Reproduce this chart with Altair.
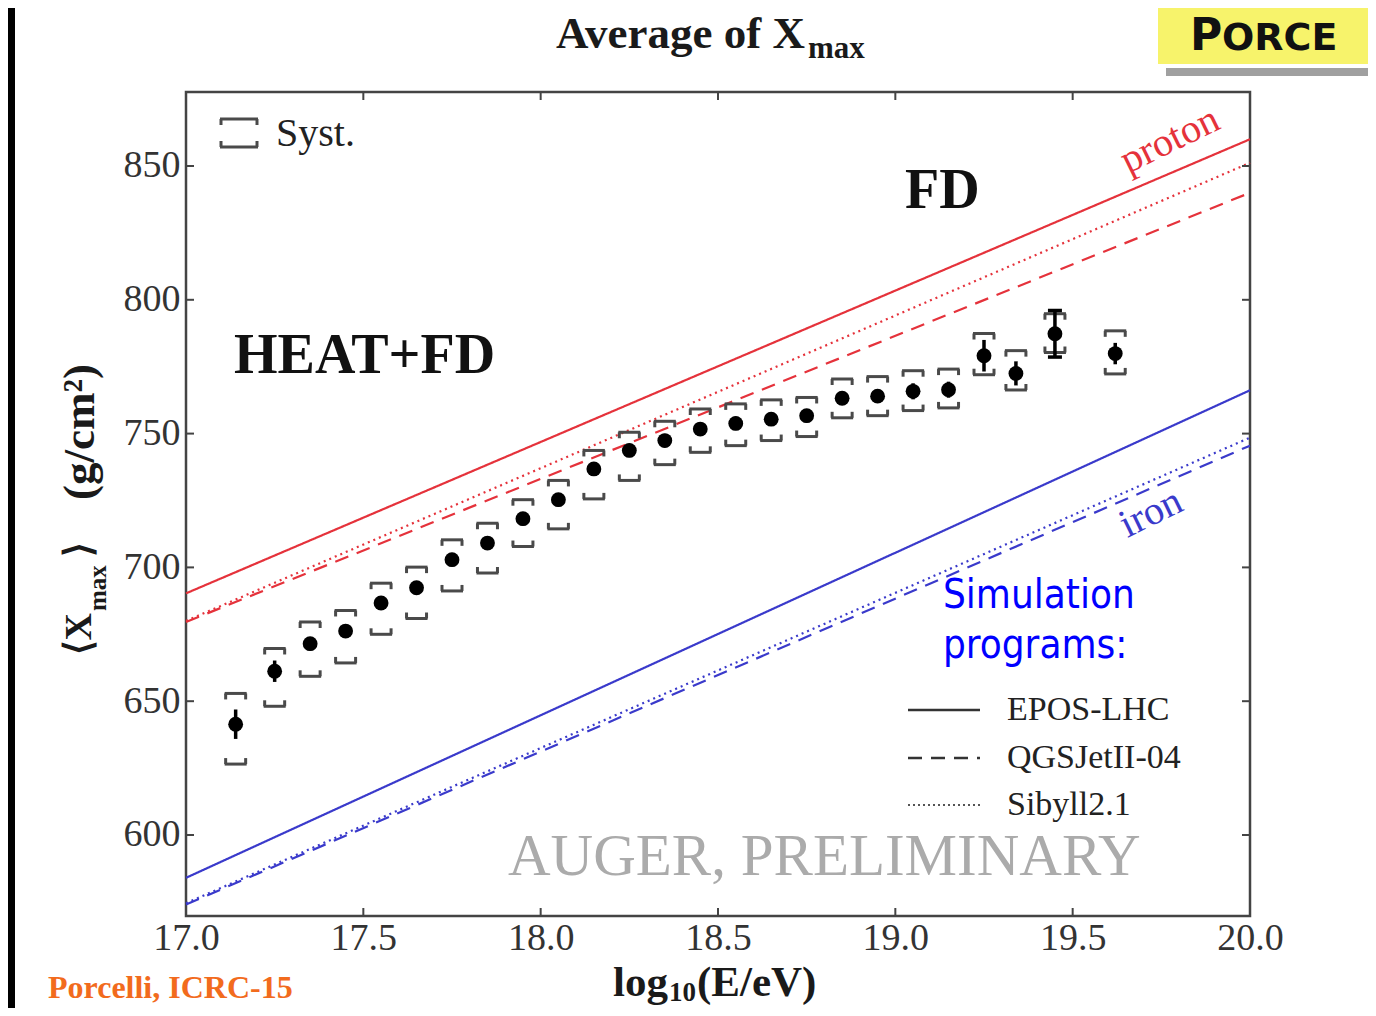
import altair as alt
import pandas as pd

# ---------------- data ----------------
log_e = [17.14, 17.25, 17.35, 17.45, 17.55, 17.65, 17.75, 17.85, 17.95, 18.05,
         18.15, 18.25, 18.35, 18.45, 18.55, 18.65, 18.75, 18.85, 18.95, 19.05,
         19.15, 19.25, 19.34, 19.45, 19.62]
xmax_mean = [641.4, 661.2, 671.5, 676.2, 686.7, 692.4, 702.9, 709.1, 718.2, 725.3,
             736.8, 743.7, 747.4, 751.7, 753.8, 755.4, 756.7, 763.2, 764.0, 765.8,
             766.4, 779.1, 772.5, 787.3, 779.9]
stat_err = [5.5, 4.0, 2.5, 2.5, 2.5, 2.5, 2.5, 2.5, 2.5, 2.5,
            2.5, 2.5, 2.5, 2.5, 2.5, 2.5, 2.5, 2.5, 2.5, 3.0,
            3.0, 5.9, 4.5, 8.7, 4.0]
syst_up = [11.5, 8.5, 8.1, 7.7, 7.4, 7.7, 7.4, 7.4, 7.1, 7.2,
           6.9, 6.8, 7.2, 7.5, 7.3, 7.2, 6.8, 7.2, 7.3, 7.7,
           7.7, 8.3, 8.5, 7.5, 8.5]
syst_low = [14.9, 13.1, 12.2, 11.9, 11.7, 11.5, 11.7, 11.2, 10.4, 10.9,
            11.2, 11.2, 9.0, 8.7, 8.3, 8.0, 7.8, 7.3, 7.3, 7.2,
            6.8, 7.1, 6.2, 7.0, 7.6]

sim_models = ["EPOS-LHC", "QGSJetII-04", "Sibyll2.1"]
sim_log_e = [17.0, 20.0]
proton_xmax = [[690.3, 860.0], [679.6, 840.0], [680.0, 851.2]]
iron_xmax = [[584.0, 766.2], [574.0, 745.5], [574.5, 748.5]]

x_ticks = [17.0, 17.5, 18.0, 18.5, 19.0, 19.5, 20.0]
y_ticks = [600, 650, 700, 750, 800, 850]

# ---------------- tables ----------------
pts = pd.DataFrame({"x": log_e, "y": xmax_mean})
pts["st_lo"] = [m - e for m, e in zip(xmax_mean, stat_err)]
pts["st_hi"] = [m + e for m, e in zip(xmax_mean, stat_err)]
pts["sy_lo"] = [m - e for m, e in zip(xmax_mean, syst_low)]
pts["sy_hi"] = [m + e for m, e in zip(xmax_mean, syst_up)]
caps = pts[[e > 7 for e in stat_err]]

rows = []
for prim, table in (("proton", proton_xmax), ("iron", iron_xmax)):
    for model, vals in zip(sim_models, table):
        for xe, v in zip(sim_log_e, vals):
            rows.append({"primary": prim, "model": model, "x": xe, "y": v})
sims = pd.DataFrame(rows)

xt = pd.DataFrame({"v": x_ticks})
yt = pd.DataFrame({"v": y_ticks})
one = pd.DataFrame({"_": [0]})

W, H = 1064, 824
SERIF = "Liberation Serif"
FRAME = "#444444"
RED = "#e5323b"
BLUE = "#3a3acb"

xs = alt.Scale(domain=[17.0, 20.0], nice=False, zero=False)
ys = alt.Scale(domain=[569.73, 877.65], nice=False, zero=False)
xaxis = alt.Axis(values=x_ticks, format=".1f", title=None, labelPadding=3, labelFlush=False)
yaxis = alt.Axis(values=y_ticks, format="d", title=None, labelPadding=6, labelFlush=False)


def X(f):
    return alt.X(f, type="quantitative", scale=xs, axis=xaxis)


def Y(f):
    return alt.Y(f, type="quantitative", scale=ys, axis=yaxis)


def txt(s, x, y, size, color="#111111", weight="normal", font=SERIF,
        align="left", baseline="alphabetic", angle=0):
    return alt.Chart(one).mark_text(
        text=s, font=font, fontSize=size, fontWeight=weight, color=color,
        align=align, baseline=baseline, angle=angle
    ).encode(x=alt.value(x), y=alt.value(y))


def prule(x, x2, y, y2, color, width=3, dash=None):
    kw = {"color": color, "strokeWidth": width}
    if dash is not None:
        kw["strokeDash"] = dash
    return alt.Chart(one).mark_rule(**kw).encode(
        x=alt.value(x), x2=alt.value(x2), y=alt.value(y), y2=alt.value(y2))


# ---------------- simulation lines ----------------
lines = alt.Chart(sims).mark_line(strokeWidth=2.2).encode(
    x=X("x"), y=Y("y"),
    color=alt.Color("primary:N", scale=alt.Scale(domain=["proton", "iron"], range=[RED, BLUE]), legend=None),
    strokeDash=alt.StrokeDash("model:N", scale=alt.Scale(domain=sim_models, range=[[1, 0], [14, 9], [2, 4]]), legend=None),
    detail="model:N",
)

# ---------------- systematic brackets ----------------
SC = "#4a4a4a"
br_top = alt.Chart(pts).mark_rule(color=SC, strokeWidth=3, xOffset=-11, x2Offset=11).encode(
    x=X("x"), x2="x", y=Y("sy_hi"))
br_bot = alt.Chart(pts).mark_rule(color=SC, strokeWidth=3, xOffset=-11, x2Offset=11).encode(
    x=X("x"), x2="x", y=Y("sy_lo"))
tk_tl = alt.Chart(pts).mark_rule(color=SC, strokeWidth=3, xOffset=-10, y2Offset=6).encode(
    x=X("x"), y=Y("sy_hi"), y2="sy_hi")
tk_tr = alt.Chart(pts).mark_rule(color=SC, strokeWidth=3, xOffset=10, y2Offset=6).encode(
    x=X("x"), y=Y("sy_hi"), y2="sy_hi")
tk_bl = alt.Chart(pts).mark_rule(color=SC, strokeWidth=3, xOffset=-10, y2Offset=-6).encode(
    x=X("x"), y=Y("sy_lo"), y2="sy_lo")
tk_br = alt.Chart(pts).mark_rule(color=SC, strokeWidth=3, xOffset=10, y2Offset=-6).encode(
    x=X("x"), y=Y("sy_lo"), y2="sy_lo")

# ---------------- statistical errors + points ----------------
stat = alt.Chart(pts).mark_rule(color="black", strokeWidth=3.5).encode(
    x=X("x"), y=Y("st_lo"), y2="st_hi")
cap_hi = alt.Chart(caps).mark_rule(color="black", strokeWidth=3.5, xOffset=-7, x2Offset=7).encode(
    x=X("x"), x2="x", y=Y("st_hi"))
cap_lo = alt.Chart(caps).mark_rule(color="black", strokeWidth=3.5, xOffset=-7, x2Offset=7).encode(
    x=X("x"), x2="x", y=Y("st_lo"))
dots = alt.Chart(pts).mark_point(filled=True, shape="circle", size=220, color="black", opacity=1).encode(
    x=X("x"), y=Y("y"))

# ---------------- inward ticks ----------------
tb = alt.Chart(xt).mark_rule(color=FRAME, strokeWidth=2).encode(x=X("v"), y=alt.value(H), y2=alt.value(H - 8))
tt = alt.Chart(xt).mark_rule(color=FRAME, strokeWidth=2).encode(x=X("v"), y=alt.value(0), y2=alt.value(8))
tl = alt.Chart(yt).mark_rule(color=FRAME, strokeWidth=2).encode(y=Y("v"), x=alt.value(0), x2=alt.value(8))
tr = alt.Chart(yt).mark_rule(color=FRAME, strokeWidth=2).encode(y=Y("v"), x=alt.value(W), x2=alt.value(W - 8))

# ---------------- annotations ----------------
TXT = "#1a1a1a"
SANS_C = "DejaVu Sans Condensed, DejaVu Sans"
ann = [
    # title
    txt("Average of X", 619, -44, 45, weight="bold", align="right", color=TXT),
    txt("max", 622, -34, 31, weight="bold", color=TXT),
    # x title
    txt("log", 482, 904, 43, weight="bold", align="right", color=TXT),
    txt("10", 483, 909, 27, weight="bold", color=TXT),
    txt("(E/eV)", 511, 904, 43, weight="bold", color=TXT),
    # y title (rotated)
    txt("\u27e8X", -106, 521, 38, weight="bold", align="right", baseline="middle", angle=270, color=TXT),
    txt("max", -88, 519, 25, weight="bold", align="left", baseline="middle", angle=270, color=TXT),
    txt("\u27e9", -106, 465, 38, weight="bold", align="left", baseline="middle", angle=270, color=TXT),
    txt("(g/cm\u00b2)", -106, 408, 45, weight="bold", align="left", baseline="middle", angle=270, color=TXT),
    # in-plot labels
    txt("Syst.", 90, 54, 40, color="#222222"),
    txt("HEAT+FD", 48, 281, 56, weight="bold", color="#111111"),
    txt("FD", 719, 116, 56, weight="bold", color="#111111"),
    txt("proton", 984, 48, 40, color=RED, align="center", baseline="middle", angle=334),
    txt("iron", 965, 421, 40, color=BLUE, align="center", baseline="middle", angle=334),
    txt("Simulation", 757, 516, 40, color="#0000ff", font=SANS_C),
    txt("programs:", 757, 566, 40, color="#0000ff", font=SANS_C),
    txt("EPOS-LHC", 821, 618, 34, color="#222222", baseline="middle"),
    txt("QGSJetII-04", 821, 666, 34, color="#222222", baseline="middle"),
    txt("Sibyll2.1", 821, 713, 34, color="#222222", baseline="middle"),
    txt("AUGER, PRELIMINARY", 322, 783, 59, color="#ababab"),
    txt("Porcelli, ICRC-15", -138, 906, 32, weight="bold", color="#f26b1d"),
]

# legend sample lines
leg = [
    prule(722, 794, 618, 618, "#333333", 2.5),
    prule(722, 794, 666, 666, "#333333", 2.5, [14, 9]),
    prule(722, 794, 713, 713, "#555555", 2.0, [2, 3]),
]

# Syst. symbol
syst_sym = [
    prule(34, 72, 27, 27, SC), prule(35, 35, 27, 33, SC), prule(71, 71, 27, 33, SC),
    prule(34, 72, 55, 55, SC), prule(35, 35, 55, 49, SC), prule(71, 71, 55, 49, SC),
]

# slide decorations: left black bar and logo
deco = [
    alt.Chart(one).mark_rect(color="black").encode(
        x=alt.value(-178), x2=alt.value(-171), y=alt.value(-84), y2=alt.value(916)),
    alt.Chart(one).mark_rect(color="#f7f36b").encode(
        x=alt.value(972), x2=alt.value(1190), y=alt.value(-84), y2=alt.value(-28)),
    alt.Chart(one).mark_rect(color="#808080", opacity=0.75).encode(
        x=alt.value(980), x2=alt.value(1190), y=alt.value(-24), y2=alt.value(-16)),
    txt("P", 1004, -42, 44, weight="bold", font="DejaVu Sans", color="#111111"),
    txt("ORCE", 1036, -42, 38, weight="bold", font="DejaVu Sans", color="#111111"),
]

chart = alt.layer(
    *deco, lines, br_top, br_bot, tk_tl, tk_tr, tk_bl, tk_br, stat, cap_hi, cap_lo, dots,
    tb, tt, tl, tr, *leg, *syst_sym, *ann
).properties(
    width=W, height=H,
    autosize=alt.AutoSizeParams(type="none"),
    padding={"left": 178, "top": 84, "right": 118, "bottom": 92},
).configure_view(
    stroke=FRAME, strokeWidth=2.5
).configure_axis(
    labelFont=SERIF, labelFontSize=38, labelColor="#333333",
    domain=False, ticks=False, grid=False
)

chart.save("out.html", embed_options={"renderer": "svg", "actions": False})
